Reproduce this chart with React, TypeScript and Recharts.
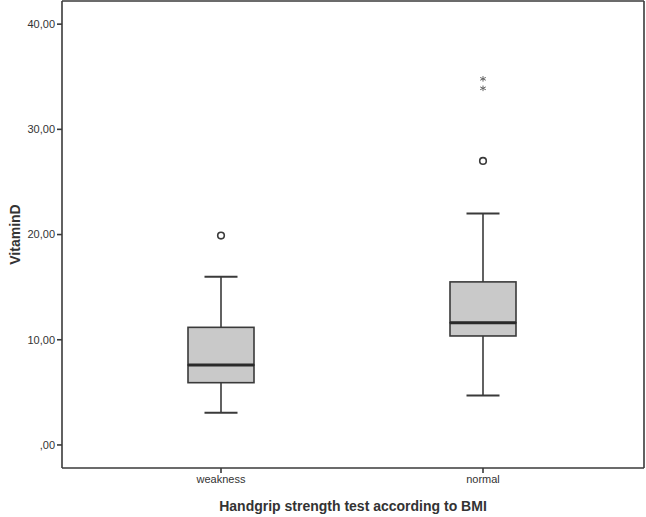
import { ComposedChart, Bar, Scatter, XAxis, YAxis } from 'recharts'

const CATEGORIES = ['weakness', 'normal']
const MINS = [3.07, 4.69]
const Q1S = [5.92, 10.36]
const MEDIANS = [7.6, 11.62]
const Q3S = [11.18, 15.5]
const MAXS = [16.0, 22.0]
// circles = outliers, stars = extreme values
const OUTLIERS: (number | null)[] = [19.9, 27.0]
const EXTREME_A: (number | null)[] = [null, 34.8]
const EXTREME_B: (number | null)[] = [null, 33.9]
const Y_TICKS = [0, 10, 20, 30, 40]
const Y_DOMAIN = [-2.19, 42.2]

const data = CATEGORIES.map((name, i) => ({
  name,
  base: MINS[i],
  lowWhisker: Q1S[i] - MINS[i],
  lowBox: MEDIANS[i] - Q1S[i],
  highBox: Q3S[i] - MEDIANS[i],
  highWhisker: MAXS[i] - Q3S[i],
  outlier: OUTLIERS[i],
  extA: EXTREME_A[i],
  extB: EXTREME_B[i],
}))

const INK = '#3a3a3a'
const PAD = { left: 28, right: 30 }

const LowWhisker = (p: any) => {
  const cx = p.x + p.width / 2
  const bottom = p.y + p.height
  return (
    <g>
      <line x1={cx} x2={cx} y1={p.y} y2={bottom} stroke={INK} strokeWidth={1.6} />
      <line x1={cx - p.width / 4} x2={cx + p.width / 4} y1={bottom} y2={bottom} stroke={INK} strokeWidth={2} />
    </g>
  )
}

const HighWhisker = (p: any) => {
  const cx = p.x + p.width / 2
  return (
    <g>
      <line x1={cx} x2={cx} y1={p.y} y2={p.y + p.height} stroke={INK} strokeWidth={1.6} />
      <line x1={cx - p.width / 4} x2={cx + p.width / 4} y1={p.y} y2={p.y} stroke={INK} strokeWidth={2} />
    </g>
  )
}

const BoxPart = (p: any) => (
  <rect x={p.x} y={p.y} width={p.width} height={p.height} fill="#c9c9c9" stroke={INK} strokeWidth={1.6} />
)

const TopBoxPart = (p: any) => (
  <g>
    <rect x={p.x} y={p.y} width={p.width} height={p.height} fill="#c9c9c9" stroke={INK} strokeWidth={1.6} />
    <line x1={p.x} x2={p.x + p.width} y1={p.y + p.height} y2={p.y + p.height} stroke="#2a2a2a" strokeWidth={3} />
  </g>
)

const Circle = (p: any) => {
  if (p.payload?.outlier == null || isNaN(p.cy)) return <g />
  return <circle cx={p.cx} cy={p.cy} r={3.3} fill="#fff" stroke={INK} strokeWidth={1.6} />
}

const starAt = (cx: number, cy: number) => {
  const r = 2.8
  return (
    <g stroke="#666" strokeWidth={1}>
      <line x1={cx} x2={cx} y1={cy - r} y2={cy + r} />
      <line x1={cx - r} x2={cx + r} y1={cy - r * 0.5} y2={cy + r * 0.5} />
      <line x1={cx - r} x2={cx + r} y1={cy + r * 0.5} y2={cy - r * 0.5} />
    </g>
  )
}

const StarA = (p: any) => (p.payload?.extA == null || isNaN(p.cy) ? <g /> : starAt(p.cx, p.cy))
const StarB = (p: any) => (p.payload?.extB == null || isNaN(p.cy) ? <g /> : starAt(p.cx, p.cy))

const fmt = (v: number) => (v === 0 ? ',00' : v.toFixed(2).replace('.', ','))

export default function App() {
  return (
    <div style={{ position: 'absolute', left: 0, top: 0, fontFamily: '"Liberation Sans", Arial, sans-serif' }}>
      <ComposedChart width={646} height={517} data={data} margin={{ top: 0, right: 1, left: 0, bottom: 0 }}>
        <XAxis
          dataKey="name"
          type="category"
          padding={PAD}
          height={49}
          stroke={INK}
          strokeWidth={1.6}
          tickSize={5}
          tick={{ fill: '#333', fontSize: 11 }}
          label={{ value: 'Handgrip strength test according to BMI', position: 'insideBottom', offset: 6, style: { fontSize: 14, fontWeight: 'bold', fill: '#333' } }}
        />
        <XAxis xAxisId="top" orientation="top" dataKey="name" type="category" padding={PAD} tick={false} tickLine={false} height={1} stroke={INK} strokeWidth={1.6} />
        <YAxis
          domain={Y_DOMAIN}
          ticks={Y_TICKS}
          tickFormatter={fmt}
          width={62}
          stroke={INK}
          strokeWidth={1.6}
          tickSize={5}
          tick={{ fill: '#333', fontSize: 11 }}
          allowDataOverflow
          label={{ value: 'VitaminD', angle: -90, position: 'insideLeft', offset: 15, style: { textAnchor: 'middle', fontSize: 14, fontWeight: 'bold', fill: '#333' } }}
        />
        <YAxis yAxisId="right" orientation="right" domain={Y_DOMAIN} allowDataOverflow width={1} tick={false} tickLine={false} stroke={INK} strokeWidth={1.6} />
        <Bar dataKey="base" stackId="box" fill="none" barSize={66} isAnimationActive={false} />
        <Bar dataKey="lowWhisker" stackId="box" barSize={66} shape={LowWhisker} isAnimationActive={false} />
        <Bar dataKey="lowBox" stackId="box" barSize={66} shape={BoxPart} isAnimationActive={false} />
        <Bar dataKey="highBox" stackId="box" barSize={66} shape={TopBoxPart} isAnimationActive={false} />
        <Bar dataKey="highWhisker" stackId="box" barSize={66} shape={HighWhisker} isAnimationActive={false} />
        <Scatter dataKey="outlier" xAxisId="top" yAxisId="right" shape={Circle} isAnimationActive={false} />
        <Scatter dataKey="extA" xAxisId="top" yAxisId="right" shape={StarA} isAnimationActive={false} />
        <Scatter dataKey="extB" xAxisId="top" yAxisId="right" shape={StarB} isAnimationActive={false} />
      </ComposedChart>
    </div>
  )
}
